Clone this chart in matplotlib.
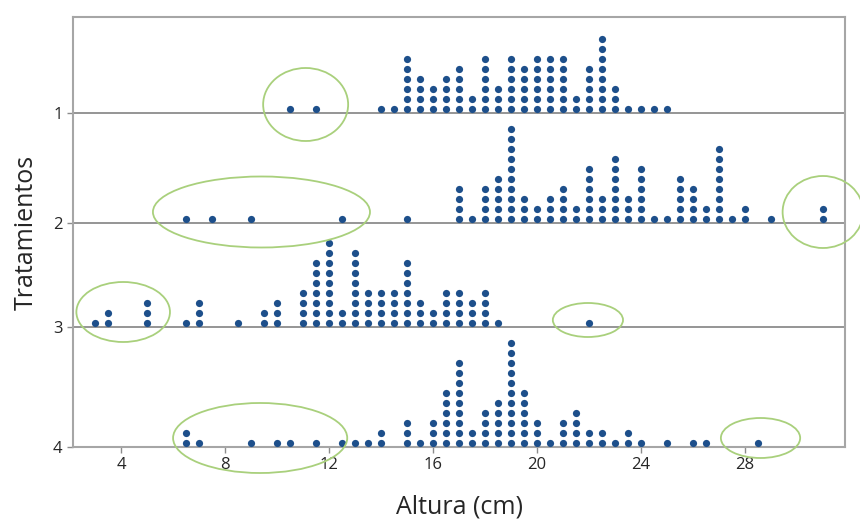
import matplotlib
matplotlib.use("Agg")
import matplotlib.pyplot as plt
from matplotlib.patches import Ellipse

# ---------------- data (bin centre in cm, number of stacked dots) ----------------
t1_values = [10.5, 11.5, 14, 14.5, 15, 15.5, 16, 16.5, 17, 17.5, 18, 18.5, 19, 19.5,
             20, 20.5, 21, 21.5, 22, 22.5, 23, 23.5, 24, 24.5, 25]
t1_counts = [1, 1, 1, 1, 6, 4, 3, 4, 5, 2, 6, 3, 6, 5,
             6, 6, 6, 2, 5, 8, 3, 1, 1, 1, 1]

t2_values = [6.5, 7.5, 9, 12.5, 15, 17, 17.5, 18, 18.5, 19, 19.5, 20, 20.5, 21, 21.5,
             22, 22.5, 23, 23.5, 24, 24.5, 25, 25.5, 26, 26.5, 27, 27.5, 28, 29, 31]
t2_counts = [1, 1, 1, 1, 1, 4, 1, 4, 5, 10, 3, 2, 3, 4, 2,
             6, 3, 7, 3, 6, 1, 1, 5, 4, 2, 8, 1, 2, 1, 2]

t3_values = [3, 3.5, 5, 6.5, 7, 8.5, 9.5, 10, 11, 11.5, 12, 12.5, 13, 13.5, 14, 14.5,
             15, 15.5, 16, 16.5, 17, 17.5, 18, 18.5, 22]
t3_counts = [1, 2, 3, 1, 3, 1, 2, 3, 4, 7, 9, 2, 8, 4, 4, 4,
             7, 3, 2, 4, 4, 3, 4, 1, 1]

t4_values = [6.5, 7, 9, 10, 10.5, 11.5, 12.5, 13, 13.5, 14, 15, 15.5, 16, 16.5, 17,
             17.5, 18, 18.5, 19, 19.5, 20, 20.5, 21, 21.5, 22, 22.5, 23, 23.5, 24,
             25, 26, 26.5, 28.5]
t4_counts = [2, 1, 1, 1, 1, 1, 1, 1, 1, 2, 3, 1, 3, 6, 9,
             2, 4, 5, 11, 6, 3, 1, 3, 4, 2, 2, 1, 2, 1,
             1, 1, 1, 1]

treatments = ["1", "2", "3", "4"]
x_ticks = [4, 8, 12, 16, 20, 24, 28]

# highlighted (outlier) regions: centre x, centre row, width (cm)
hl_x = [11.1, 9.4, 31.0, 4.08, 21.96, 9.35, 28.6]
hl_row = [1, 2, 2, 3, 3, 4, 4]
hl_w = [3.27, 8.35, 3.1, 3.6, 2.7, 6.7, 3.05]

# ---------------- layout / style ----------------
W, H = 860, 519
top_px, bottom_px, left_px, right_px = 17, 447, 73, 845
row_px = [113, 223, 327, 447]          # baseline of each treatment row (pixel rows)
dot_step = 10.0                        # vertical distance between stacked dots
dot_lift = 4.0                         # first dot above the baseline
hl_dy = [-8.5, -11, -11, -15, -7, -9, -9]  # ellipse centre offset from row line
hl_h = [73, 71, 72, 60, 34, 70, 40]        # ellipse heights

dot_color = "#1d4f8b"
grid_color = "#8c8c8c"
frame_color = "#a6a6a6"
ell_color = "#a9d07c"

plt.rcParams["font.family"] = ["Open Sans", "DejaVu Sans"]

fig = plt.figure(figsize=(W / 100, H / 100), dpi=100)
fig.patch.set_facecolor("white")
ax = fig.add_axes([left_px / W, 1 - bottom_px / H,
                   (right_px - left_px) / W, (bottom_px - top_px) / H])
ax.set_xlim(2.15, 31.85)
ax.set_ylim(bottom_px, top_px)

# row lines
for r in row_px[:3]:
    ax.axhline(r, color=grid_color, lw=1.3, zorder=1)

series = [(t1_values, t1_counts), (t2_values, t2_counts),
          (t3_values, t3_counts), (t4_values, t4_counts)]
for (vals, cnts), base in zip(series, row_px):
    xs, ys = [], []
    for v, c in zip(vals, cnts):
        for k in range(c):
            xs.append(v)
            ys.append(base - dot_lift - k * dot_step)
    ax.plot(xs, ys, linestyle="none", marker="o", markersize=5.2,
            color=dot_color, markeredgewidth=0, zorder=3)

for cx, r, w, dy, h in zip(hl_x, hl_row, hl_w, hl_dy, hl_h):
    e = Ellipse((cx, row_px[r - 1] + dy), w, h, fill=False,
                edgecolor=ell_color, lw=1.3, clip_on=False, zorder=4)
    ax.add_patch(e)

ax.set_xticks(x_ticks)
ax.set_xticklabels([str(t) for t in x_ticks])
ax.set_yticks(row_px)
ax.set_yticklabels(treatments)
ax.tick_params(axis="both", colors="#8c8c8c", labelcolor="#262626",
               labelsize=12, length=4, width=1)

for s in ax.spines.values():
    s.set_color(frame_color)
    s.set_linewidth(1.5)

ax.set_xlabel("Altura (cm)", fontsize=18, color="#262626", labelpad=15)
ax.set_ylabel("Tratamientos", fontsize=18, color="#262626", labelpad=10)

fig.savefig("out.png", dpi=100)
